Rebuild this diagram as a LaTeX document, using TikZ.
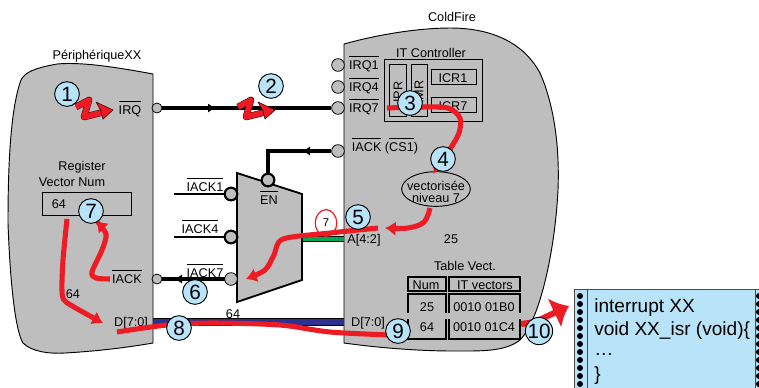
\documentclass[tikz,border=0pt]{standalone}
\usepackage{amsmath}
\usepackage{fontspec}
\setmainfont{Liberation Sans}
\usetikzlibrary{shapes, positioning, arrows.meta}
\definecolor{cpugray}{HTML}{BEBEBE}
\definecolor{itred}{HTML}{ED1C24}
\definecolor{numblue}{HTML}{B9E3F9}
\definecolor{busblue}{HTML}{2E3192}
\definecolor{busgreen}{HTML}{00A651}
\newcommand{\ovl}[1]{$\overline{\mbox{\rule{0pt}{8.6pt}#1}}$}
\tikzset{
	lab/.style={inner sep=0pt, font=\fontsize{9.5}{11.5}\selectfont, align=center},
	num/.style={circle, draw=black, fill=numblue, line width=0.7pt, minimum size=18.5pt, inner sep=0pt, font=\fontsize{15.5}{15.5}\selectfont},
	pin/.style={circle, draw=black, fill=cpugray, line width=0.6pt, minimum size=9.5pt, inner sep=0pt},
	pinsmall/.style={pin, minimum size=7.5pt},
	pinthick/.style={circle, draw=black, fill=cpugray, line width=1.6pt, minimum size=9.5pt, inner sep=0pt},
	wire/.style={line width=2.3pt, black},
	wiretip/.style={-{Latex[length=6pt, width=7pt]}},
	redline/.style={line width=3.8pt, itred},
	redtip/.style={-{Latex[length=8pt, width=11pt]}},
	regbox/.style={draw=black, line width=0.7pt},
	tabbox/.style={draw=black, line width=1.5pt},
	eclair/.pic={
		\draw[line width=5pt, black!70!itred, line join=round] (0,0)--(13,-7)--(8,10)--(28,5);
		\draw[line width=4.2pt, itred, line join=round] (0,0)--(13,-7)--(8,10)--(28,5);
		\fill[itred, draw=black!70!itred, line width=0.5pt, line join=round] (20,-5)--(37,3)--(27,12)--(25,4)--cycle;
	}
}
\begin{document}
\begin{tikzpicture}[x=0.75pt, y=-0.75pt]
	\useasboundingbox (0,0) rectangle (759,387);
	\clip (0,0) rectangle (759,387);
	
	% boitiers gris
	\draw[fill=cpugray, line width=0.7pt] (153,74) .. controls (110,66) and (80,62) .. (57,64)
		.. controls (35,68) and (25,72) .. (21,80) .. controls (10,110) and (8,170) .. (8,223)
		.. controls (10,280) and (15,330) .. (23,343) .. controls (32,352) and (50,354) .. (65,353)
		.. controls (100,351) and (130,347) .. (153,343) -- cycle;
	\draw[fill=cpugray, line width=0.7pt] (344,44) .. controls (380,34) and (420,28) .. (450,28)
		.. controls (495,28) and (525,45) .. (540,73) .. controls (552,100) and (560,140) .. (558,190)
		.. controls (555,250) and (540,320) .. (520,340) .. controls (505,352) and (480,351) .. (453,351)
		.. controls (420,351) and (380,348) .. (344,343) -- cycle;
	
	% titres
	\node[lab] (periph) at (97,56) {PériphériqueXX};
	\node[lab] (coldfire) at (452,17) {ColdFire};
	
	% pattes peripherique
	\node[pinsmall] (pIRQ) at (157,108) {};
	\node[pinsmall] (pIACK) at (157,279) {};
	
	% pattes coldfire
	\node[pin] (cIRQ1) at (338,65) {};
	\node[pin] (cIRQ4) at (338,87) {};
	\node[pin] (cIRQ7) at (338,108) {};
	\node[pin] (cIACK) at (338,151) {};
	
	% bus A et D
	\fill[busgreen] (302,236) rectangle (344,241);
	\draw[line width=0.5pt] (302,236)--(344,236);
	\draw[line width=0.5pt] (302,241)--(344,241);
	\fill[busblue] (153,318) rectangle (344,325);
	\draw[line width=0.5pt] (153,318)--(344,318);
	\draw[line width=0.5pt] (153,325)--(344,325);
	
	% coordonnees des fils
	\coordinate (e1) at (174,194);
	\coordinate (e4) at (174,237);
	\coordinate (coude) at (268,151);
	\coordinate (fl1) at (216,108);
	\coordinate (fl2) at (302,151);
	\coordinate (fl3) at (174,279);
	\coordinate (mEN0) at (268,175);
	\coordinate (m1) at (231,194);
	\coordinate (m4) at (231,237);
	\coordinate (m7) at (231,279);
	
	% fils
	\draw[wire] (pIRQ)--(cIRQ7);
	\draw[wire, wiretip] (pIRQ)--(fl1);
	\draw[wire] (cIACK)--(coude)--(mEN0);
	\draw[wire, wiretip] (cIACK)--(fl2);
	\draw[wire] (m7)--(pIACK);
	\draw[wire, wiretip] (m7)--(fl3);
	\draw[wire, line width=1.5pt] (e1)--(m1);
	\draw[wire, line width=1.5pt] (e4)--(m4);
	
	% multiplexeur
	\draw[fill=cpugray, line width=1.4pt] (237,173)--(302,194)--(302,280)--(237,302)--cycle;
	\node[pinthick] (mIACK1) at (m1) {};
	\node[pinthick] (mIACK4) at (m4) {};
	\node[pin] (mIACK7) at (m7) {};
	\node[pinthick] (mEN) at (268,180) {};
	
	% textes des signaux
	\node[lab] (tIRQ) at (130,109) {\ovl{IRQ}};
	\node[lab] (tIACK) at (127,277) {\ovl{IACK}};
	\node[lab] (tD) at (131,323) {D[7:0]};
	\node[lab] (tIRQ1) at (364,64) {\ovl{IRQ1}};
	\node[lab] (tIRQ4) at (364,86) {\ovl{IRQ4}};
	\node[lab] (tIRQ7) at (364,107) {\ovl{IRQ7}};
	\node[lab] (tCS) at (385,146) {\ovl{IACK} (\ovl{CS1})};
	\node[lab] (tIACK1) at (205,185) {\ovl{IACK1}};
	\node[lab] (tIACK4) at (200,227) {\ovl{IACK4}};
	\node[lab] (tIACK7) at (205,271) {\ovl{IACK7}};
	\node[lab] (tEN) at (269,197) {\ovl{EN}};
	\node[lab] (tA) at (364,240) {A[4:2]};
	\node[lab] (tD2) at (368,323) {D[7:0]};
	\node[lab] (t25) at (451,239) {25};
	\node[lab] (t64a) at (233,314) {64};
	\node[lab] (t64b) at (73,294) {64};
	
	% registre vecteur
	\node[lab] (treg) at (82,167) {Register};
	\node[lab] (tvec) at (72,182) {Vector Num};
	\draw[regbox] (42,192) rectangle (131,215);
	\node[lab] (t64c) at (59,204) {64};
	
	% IT controller
	\node[lab] (tctrl) at (431,53) {IT Controller};
	\draw[regbox] (384,59) rectangle (482,121);
	\draw[regbox] (389,64) rectangle (406,116);
	\draw[regbox] (411,64) rectangle (427,116);
	\draw[regbox] (431,69) rectangle (476,84);
	\draw[regbox] (431,97) rectangle (476,112);
	\node[lab, rotate=90] (tIPR) at (398,92) {IPR};
	\node[lab, rotate=90] (tIMR) at (419,92) {IMR};
	\node[lab] (tICR1) at (453,78) {ICR1};
	\node[lab] (tICR7) at (453,106) {ICR7};
	
	% niveau
	\node[ellipse, draw=black, line width=0.7pt, minimum width=51.5pt, minimum height=26pt, inner sep=-8pt, lab] (vect) at (436,189) {};
	\node[lab] (tvect) at (436,186) {vectorisée};
	\node[lab] (tniv) at (436,198) {niveau 7};
	
	% table des vecteurs
	\node[lab] (ttab) at (465,266) {Table Vect.};
	\draw[tabbox] (408,277) rectangle (446,291);
	\draw[tabbox] (449,277) rectangle (520,291);
	\draw[tabbox] (408,313)--(408,294)--(446,294)--(446,313);
	\draw[tabbox] (449,313)--(449,294)--(520,294)--(520,313);
	\draw[tabbox] (408,319)--(408,339)--(446,339)--(446,319);
	\draw[tabbox] (449,319)--(449,339)--(520,339)--(520,319);
	\node[lab] (tNum) at (426,285) {Num};
	\node[lab] (tIT) at (485,285) {IT vectors};
	\node[lab] (t25b) at (427,307) {25};
	\node[lab] (tB0) at (484,307) {0010 01B0};
	\node[lab] (t64d) at (427,327) {64};
	\node[lab] (tC4) at (484,327) {0010 01C4};
	
	% routine
	\draw[fill=numblue, line width=0.7pt, draw=black!70] (574,289) rectangle (790,400);
	\draw[line width=0.7pt, black!70] (587,289)--(587,400);
	\draw[line width=0.7pt, black!70] (755,289)--(755,400);
	\foreach \yy in {296,304,...,388}{
		\fill (580,\yy) circle (3);
		\fill (759,\yy) circle (3);
	}
	\node[anchor=west, inner sep=0pt, font=\fontsize{14.3}{17}\selectfont] (isr1) at (594,308) {interrupt XX};
	\node[anchor=west, inner sep=0pt, font=\fontsize{14.3}{17}\selectfont] (isr2) at (594,331) {void XX\_isr (void)\{};
	\node[anchor=west, inner sep=0pt, font=\fontsize{14.3}{17}\selectfont] (isr3) at (594,354) {…};
	\node[anchor=west, inner sep=0pt, font=\fontsize{14.3}{17}\selectfont] (isr4) at (594,376) {\}};
	
	% petit 7
	\node[ellipse, draw=itred, fill=white, line width=0.9pt, minimum width=16pt, minimum height=20pt, inner sep=0pt, font=\fontsize{8.5}{9}\selectfont] (sept) at (326,223) {7};
	
	% eclairs
	\draw (76,107) pic {eclair};
	\draw (238,107) pic {eclair};
	
	% chemin rouge
	\draw[redline] plot[smooth, tension=0.5] coordinates {(387,108) (420,107) (448,108) (460,118) (459,133) (450,149) (441,160)};
	\draw[redline, line width=1.8pt, -{Latex[length=6pt, width=7pt]}] (440,163)--(433,174);
	\draw[redline, redtip] plot[smooth, tension=0.6] coordinates {(430,208) (424,222) (408,228) (385,228)};
	\draw[redline, redtip] plot[smooth, tension=0.5] coordinates {(378,228) (330,233) (283,239) (274,255) (265,270) (246,279)};
	\draw[redline, redtip] plot[smooth, tension=0.5] coordinates {(110,279) (96,278) (92,272) (102,250) (106,234) (96,221)};
	\draw[redline, redtip] plot[smooth, tension=0.4] coordinates {(67,219) (63,260) (62,290) (66,302) (103,323)};
	\draw[redline] plot[smooth, tension=0.5] coordinates {(117,332) (167,325) (213,323) (280,325) (330,332) (390,335)};
	\draw[redline, line width=4.5pt, -{Latex[length=12pt, width=25pt]}] (521,324)--(535,322)--(569,306);
	
	% numeros
	\node[num] (n1) at (67,94) {1};
	\node[num] (n2) at (271,86) {2};
	\node[num] (n3) at (410,103) {3};
	\node[num] (n4) at (443,159) {4};
	\node[num] (n5) at (358,217) {5};
	\node[num] (n6) at (195,292) {6};
	\node[num] (n7) at (91,211) {7};
	\node[num] (n8) at (179,328) {8};
	\node[num] (n9) at (398,331) {9};
	\node[num] (n10) at (539,331) {10};
\end{tikzpicture}
\end{document}
